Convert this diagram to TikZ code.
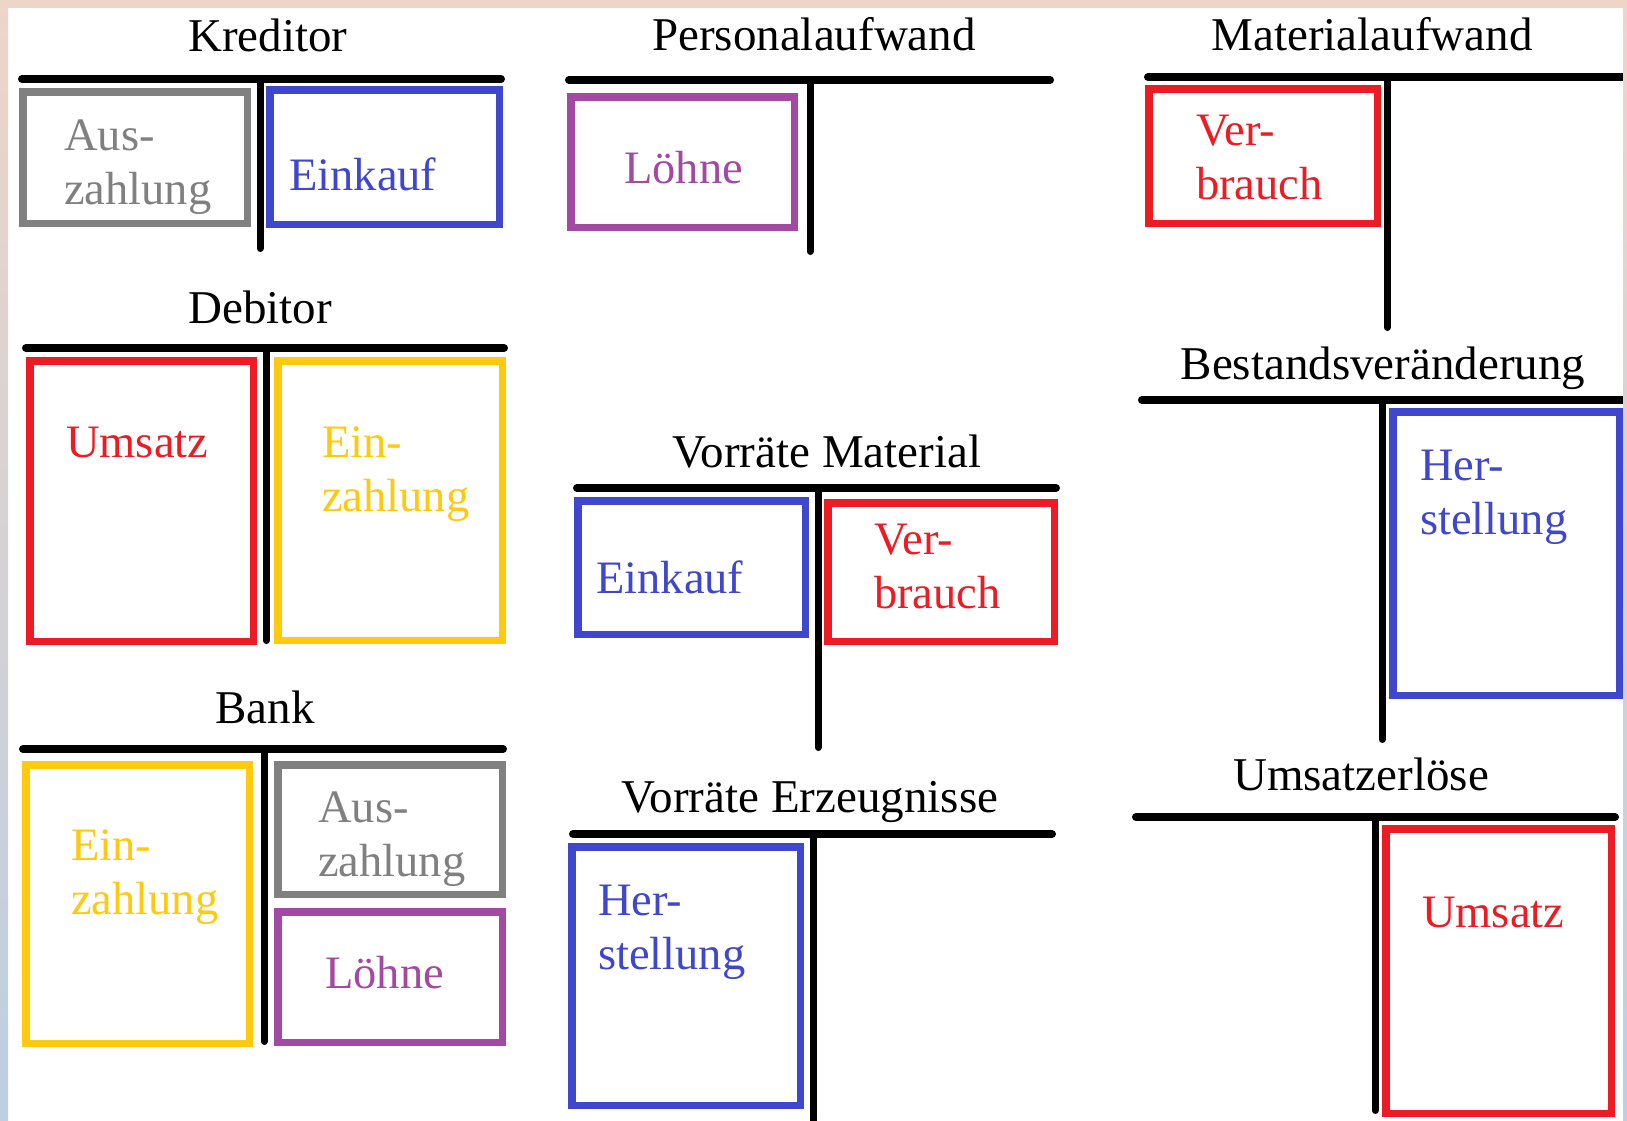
\documentclass[tikz,border=0pt]{standalone}
\usepackage{fontspec}
\setmainfont{Liberation Serif}
\definecolor{pgray}{HTML}{808080}
\definecolor{pblue}{HTML}{3F48CC}
\definecolor{pred}{HTML}{ED1C24}
\definecolor{pgold}{HTML}{FFC90E}
\definecolor{ppurple}{HTML}{A349A4}
\definecolor{edgepeach}{HTML}{EDD5C8}
\definecolor{edgelilac}{HTML}{D6BACF}
\definecolor{edgeblue}{HTML}{BDCFE1}

\tikzset{
  title/.style={anchor=base, inner sep=0pt, font=\fontsize{47}{54}\selectfont},
  % anchored at the baseline of the last line
  entry/.style={anchor=base west, align=left, inner sep=0pt, text=#1,
                font=\fontsize{46.5}{54}\selectfont},
  rule/.style={line width=8pt, line cap=round},
  stem/.style={line width=7pt, line cap=round},
  post/.style={draw=#1, line width=7.5pt, inner sep=0pt, outer sep=0pt}
}

% T-account: name, left end, right end, bar height, stem x, stem bottom
\newcommand\tkonto[6]{%
  \coordinate (#1-l) at (#2+4,#4);
  \coordinate (#1-r) at (#3-4,#4);
  \coordinate (#1-t) at (#5,#4);
  \coordinate (#1-b) at (#5,#6-3.5);
  \draw[rule] (#1-l) -- (#1-r);
  \draw[stem] (#1-t) -- (#1-b);
}
% booking box by its outer edges: name, colour, x1, y1, x2, y2
\newcommand\buchung[6]{%
  \node[post=#2, minimum width={#5-#3-7.5}, minimum height={#6-#4-7.5}]
    (#1) at ({(#3+#5)/2},{(#4+#6)/2}) {};
}

\begin{document}
\begin{tikzpicture}[x=1pt, y=-1pt]
  \useasboundingbox (0,0) rectangle (1627,1120);
  \fill[white] (0,0) rectangle (1627,1120);

  % Kreditor
  \node[title] (kr-title) at (268,51) {Kreditor};
  \tkonto{kr}{18}{505}{79}{260}{252}
  \buchung{kr-aus}{pgray}{19}{88}{251}{227}
  \buchung{kr-ein}{pblue}{266}{86}{503}{228}
  \node[entry=pgray] (kr-aus-t) at (64,204) {Aus-\\zahlung};
  \node[entry=pblue] (kr-ein-t) at (289,190) {Einkauf};

  % Personalaufwand
  \node[title] (pa-title) at (814,50) {Personalaufwand};
  \tkonto{pa}{565}{1054}{80}{810}{255}
  \buchung{pa-loehne}{ppurple}{567}{93}{798}{231}
  \node[entry=ppurple] (pa-loehne-t) at (624,183) {Löhne};

  % Materialaufwand
  \node[title] (ma-title) at (1372,50) {Materialaufwand};
  \tkonto{ma}{1144}{1640}{77}{1387}{331}
  \buchung{ma-verb}{pred}{1145}{85}{1381}{227}
  \node[entry=pred] (ma-verb-t) at (1196,199) {Ver-\\brauch};

  % Debitor
  \node[title] (de-title) at (260,323) {Debitor};
  \tkonto{de}{22}{508}{348}{266}{644}
  \buchung{de-ums}{pred}{26}{357}{257}{645}
  \buchung{de-ein}{pgold}{274}{357}{506}{644}
  \node[entry=pred] (de-ums-t) at (66,457) {Umsatz};
  \node[entry=pgold] (de-ein-t) at (322,511) {Ein-\\zahlung};

  % Vorraete Material
  \node[title] (vm-title) at (827,467) {Vorräte Material};
  \tkonto{vm}{573}{1060}{488}{818}{751}
  \buchung{vm-ein}{pblue}{574}{497}{809}{638}
  \buchung{vm-verb}{pred}{824}{499}{1058}{645}
  \node[entry=pblue] (vm-ein-t) at (596,593) {Einkauf};
  \node[entry=pred] (vm-verb-t) at (874,608) {Ver-\\brauch};

  % Bestandsveraenderung
  \node[title] (bv-title) at (1383,379) {Bestandsveränderung};
  \tkonto{bv}{1138}{1640}{400}{1382}{743}
  \buchung{bv-her}{pblue}{1389}{408}{1623}{699}
  \node[entry=pblue] (bv-her-t) at (1420,534) {Her-\\stellung};

  % Bank
  \node[title] (ba-title) at (265,723) {Bank};
  \tkonto{ba}{19}{507}{749}{264}{1045}
  \buchung{ba-ein}{pgold}{22}{761}{253}{1047}
  \buchung{ba-aus}{pgray}{274}{761}{506}{898}
  \buchung{ba-loehne}{ppurple}{274}{908}{506}{1046}
  \node[entry=pgold] (ba-ein-t) at (71,914) {Ein-\\zahlung};
  \node[entry=pgray] (ba-aus-t) at (318,876) {Aus-\\zahlung};
  \node[entry=ppurple] (ba-loehne-t) at (325,988) {Löhne};

  % Vorraete Erzeugnisse
  \node[title] (ve-title) at (810,812) {Vorräte Erzeugnisse};
  \tkonto{ve}{569}{1056}{834}{813}{1140}
  \buchung{ve-her}{pblue}{568}{843}{804}{1109}
  \node[entry=pblue] (ve-her-t) at (598,969) {Her-\\stellung};

  % Umsatzerloese
  \node[title] (ue-title) at (1361,790) {Umsatzerlöse};
  \tkonto{ue}{1132}{1619}{817}{1375}{1114}
  \buchung{ue-ums}{pred}{1382}{825}{1615}{1117}
  \node[entry=pred] (ue-ums-t) at (1422,927) {Umsatz};

  % frame strips
  \shade[top color=edgepeach, middle color=edgelilac, bottom color=edgeblue]
    (0,0) rectangle (8,1120);
  \shade[top color=edgepeach, middle color=edgelilac, bottom color=edgeblue]
    (1623,0) rectangle (1627,1120);
  \fill[edgepeach] (0,0) rectangle (1627,8);
\end{tikzpicture}
\end{document}
